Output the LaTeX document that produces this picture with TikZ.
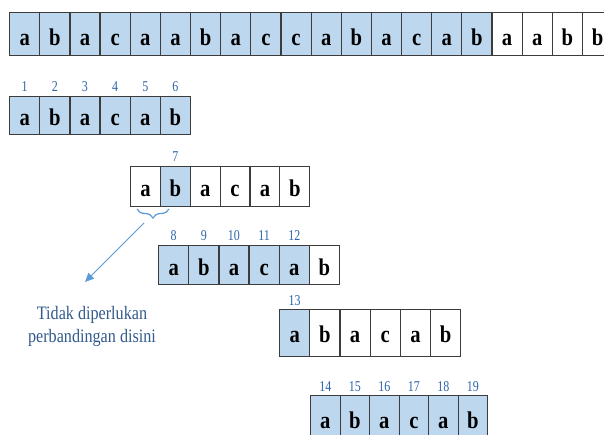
\documentclass[tikz,border=0pt]{standalone}
\usepackage{fontspec}
\usepackage{graphicx}
\setmainfont{Liberation Serif}
\usetikzlibrary{calc,decorations.pathreplacing,arrows.meta}
\definecolor{cellblue}{RGB}{189,215,238}
\definecolor{cellline}{RGB}{60,60,60}
\definecolor{numblue}{RGB}{46,100,170}
\definecolor{noteblue}{RGB}{50,90,140}
\definecolor{arrowblue}{RGB}{91,155,213}
\tikzset{
  cellbox/.style={draw=cellline, line width=1.2pt, inner sep=0pt, anchor=north west},
  letter/.style={inner sep=0pt, anchor=base, font=\fontsize{24}{28}\selectfont\bfseries},
  numlabel/.style={inner sep=0pt, anchor=base, text=numblue, font=\fontsize{15}{18}\selectfont},
  notetext/.style={inner sep=0pt, text=noteblue, font=\fontsize{19}{23}\selectfont},
  bluebrace/.style={draw=arrowblue, line width=1.2pt, decorate, decoration={brace, amplitude=9pt, mirror}},
  bluearrow/.style={draw=arrowblue, line width=1pt, -{Triangle[length=9pt,width=8pt]}}
}
% #1 name, #2 x0, #3 top, #4 height, #5 width, #6 baseline offset, #7 letter/fill list
\newcommand\mkrow[7]{%
  \foreach \L/\F [count=\i] in {#7} {
    \node[cellbox, fill=\F, minimum width=#5pt, minimum height=#4pt] (#1-\i) at ({#2+(\i-1)*#5}, #3) {};
    \node[letter] (#1-\i-t) at ($(#1-\i.center)+(0,#6)$) {\scalebox{0.86}[1]{\L}};
  }%
}
% #1 name, #2 list of cell/number
\newcommand\mknums[2]{%
  \foreach \i/\N in {#2} {
    \node[numlabel] (#1-n\N) at ($(#1-\i.north)+(0,-4)$) {\scalebox{0.8}[1]{\N}};
  }%
}
\begin{document}
\begin{tikzpicture}[x=1pt,y=-1pt]
\useasboundingbox (0,0) rectangle (604,435);
\clip (0,0) rectangle (604,435);
% text row
\mkrow{top}{9}{12}{43}{30.15}{11.5}{a/cellblue,b/cellblue,a/cellblue,c/cellblue,a/cellblue,a/cellblue,b/cellblue,a/cellblue,c/cellblue,c/cellblue,a/cellblue,b/cellblue,a/cellblue,c/cellblue,a/cellblue,b/cellblue,a/white,a/white,b/white,b/white}
% pattern positions
\mkrow{pa}{9}{96}{38}{30.15}{10}{a/cellblue,b/cellblue,a/cellblue,c/cellblue,a/cellblue,b/cellblue}
\mknums{pa}{1/1,2/2,3/3,4/4,5/5,6/6}
\mkrow{pb}{130}{166}{40}{29.85}{10}{a/white,b/cellblue,a/white,c/white,a/white,b/white}
\mknums{pb}{2/7}
\mkrow{pc}{158}{245}{39}{30.15}{10}{a/cellblue,b/cellblue,a/cellblue,c/cellblue,a/cellblue,b/white}
\mknums{pc}{1/8,2/9,3/10,4/11,5/12}
\mkrow{pd}{279}{309}{47}{30.2}{9}{a/cellblue,b/white,a/white,c/white,a/white,b/white}
\mknums{pd}{1/13}
\mkrow{pe}{310}{395}{46}{29.5}{10}{a/cellblue,b/cellblue,a/cellblue,c/cellblue,a/cellblue,b/cellblue}
\mknums{pe}{1/14,2/15,3/16,4/17,5/18,6/19}
% brace and note
\coordinate (bl) at (137,209);
\coordinate (br) at (169,209);
\draw[bluebrace] (bl) -- (br);
\coordinate (as) at (144,223);
\coordinate (ae) at (85,282);
\draw[bluearrow] (as) -- (ae);
\node[notetext] (note) at (92,326) {\scalebox{0.85}[1]{\begin{tabular}{@{}c@{}}Tidak diperlukan\\perbandingan disini\end{tabular}}};
\end{tikzpicture}
\end{document}
